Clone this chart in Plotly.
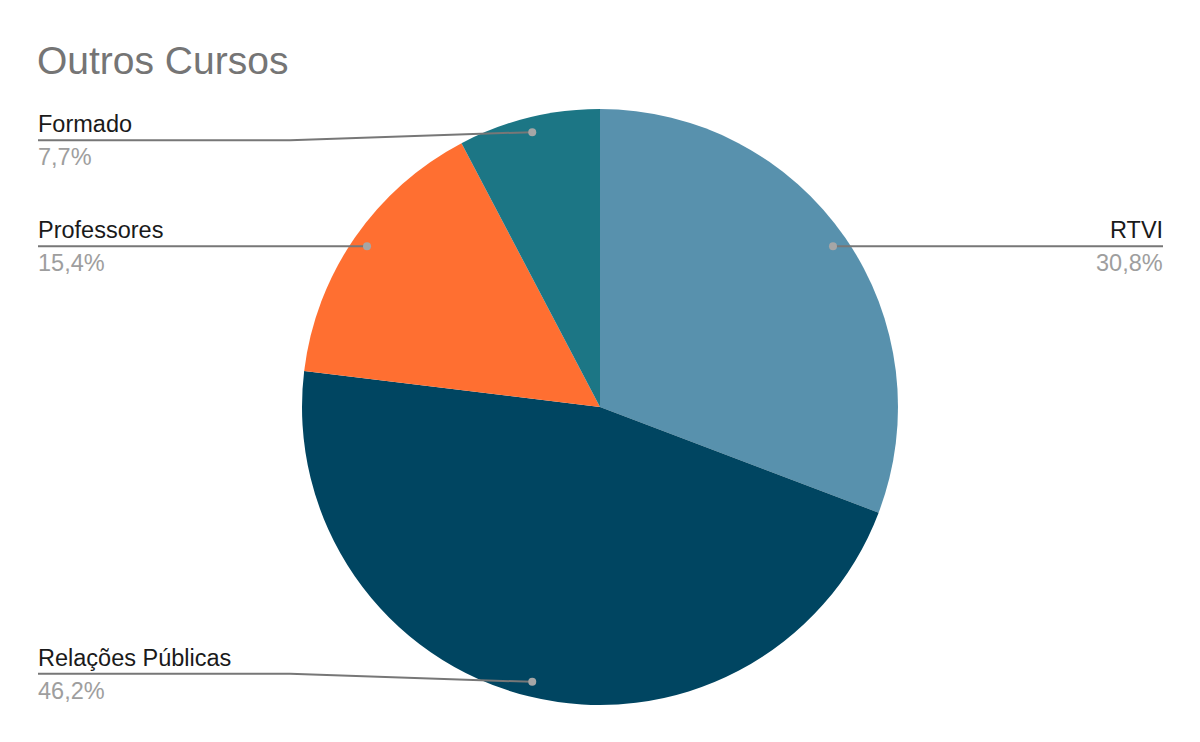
import math
import plotly.graph_objects as go

categories = ["RTVI", "Relações Públicas", "Professores", "Formado"]
values = [4, 6, 2, 1]
colors = ["#5891ad", "#004561", "#ff6f31", "#1c7685"]
title_text = "Outros Cursos"

W, H = 1200, 742
OFF = 8  # browser body margin compensation (screen px -> figure px)

# pie geometry in screen pixels
pie_top, pie_bottom, pie_cx = 109, 705, 600
R = (pie_bottom - pie_top) / 2
cy = (pie_top + pie_bottom) / 2
cx = pie_cx
dom_y = [1 - (pie_bottom - OFF) / H, 1 - (pie_top - OFF) / H]
dom_x = [0, 2 * (pie_cx - OFF) / W]

FONT = "Liberation Sans, Arial, sans-serif"

fig = go.Figure(go.Pie(
    labels=categories, values=values, sort=False, direction="clockwise", rotation=0,
    marker=dict(colors=colors, line=dict(width=0)),
    textinfo="none", hoverinfo="label+percent", showlegend=False,
    domain=dict(x=dom_x, y=dom_y),
))

def px(x):
    return (x - OFF) / W

def py(y):
    return 1 - (y - OFF) / H

total = sum(values)
shapes = []
annotations = []
cum = 0
for cat, v in zip(categories, values):
    mid = (cum + v / 2) / total * 2 * math.pi
    cum += v
    dx = 0.95 * R * math.sin(mid)
    dy = -0.95 * R * math.cos(mid)
    dotx, doty = cx + dx, cy + dy
    pct = f"{v / total * 100:.1f}%".replace(".", ",")
    right = dx > 0
    if abs(dy) > 0.8 * R:
        liney = doty + (8 if dy < 0 else -8)
        elbow = 290
        pts = [(dotx, doty), (elbow, liney), (38, liney)]
    else:
        liney = doty
        if right:
            pts = [(dotx, doty), (1163, liney)]
        else:
            pts = [(dotx, doty), (38, liney)]
    path = "M " + " L ".join(f"{px(x)},{py(y)}" for x, y in pts)
    shapes.append(dict(type="path", xref="paper", yref="paper", path=path,
                       line=dict(color="#777777", width=2)))
    r = 4
    shapes.append(dict(type="circle", xref="paper", yref="paper",
                       x0=px(dotx - r), x1=px(dotx + r), y0=py(doty + r), y1=py(doty - r),
                       fillcolor="#a6a6a6", line=dict(width=0)))
    ax = 1165 if right else 36
    anchor = "right" if right else "left"
    annotations.append(dict(x=px(ax), y=py(liney - 1), xref="paper", yref="paper",
                            text=cat, showarrow=False, xanchor=anchor, yanchor="bottom",
                            font=dict(family=FONT, size=23.5, color="#1a1a1a")))
    annotations.append(dict(x=px(ax), y=py(liney + 2), xref="paper", yref="paper",
                            text=pct, showarrow=False, xanchor=anchor, yanchor="top",
                            font=dict(family=FONT, size=23.5, color="#9e9e9e")))

annotations.append(dict(x=px(35), y=py(37), xref="paper", yref="paper",
                        text=title_text, showarrow=False, xanchor="left", yanchor="top",
                        font=dict(family=FONT, size=39, color="#757575")))

fig.update_layout(
    width=W, height=H, margin=dict(l=0, r=0, t=0, b=0),
    paper_bgcolor="white", plot_bgcolor="white",
    shapes=shapes, annotations=annotations,
)
fig.write_html("out.html")
